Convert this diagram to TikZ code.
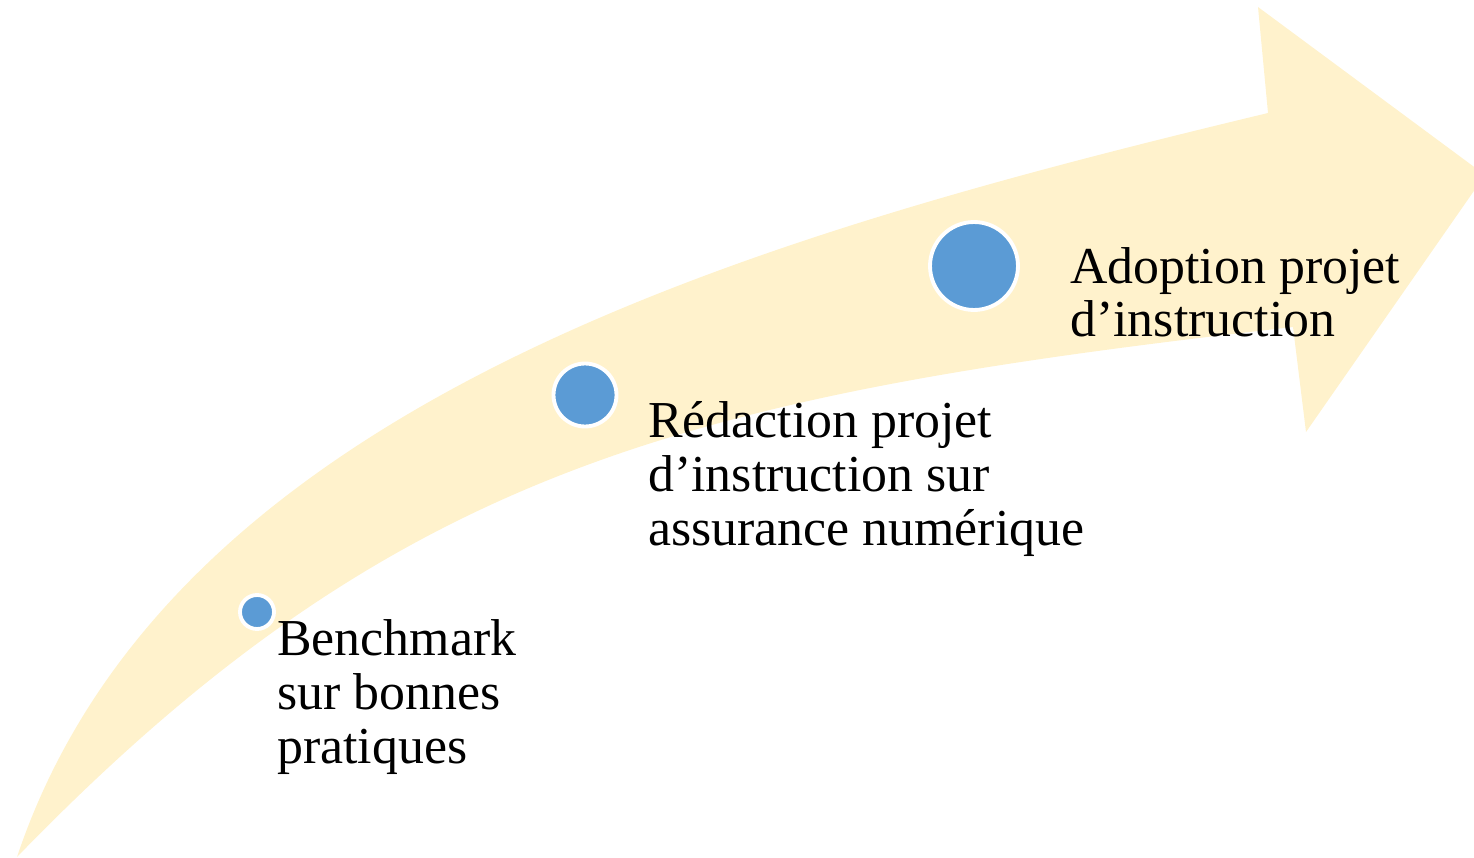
\documentclass[tikz,border=0pt]{standalone}
\usepackage{fontspec}
\setmainfont{Liberation Serif}
\usepackage{xcolor}

\begin{document}
\begin{tikzpicture}[x=0.02cm, y=-0.02cm,
    dot/.style={circle, fill=StepBlue, draw=white, line width=2.2pt, inner sep=0pt},
    steptext/.style={anchor=base west, align=left, inner sep=0pt,
        font=\fontsize{29.5}{30.7}\selectfont}]
    \definecolor{PaleGold}{HTML}{FFF2CC}
    \definecolor{StepBlue}{HTML}{5B9BD5}
    \useasboundingbox (0,0) rectangle (1474,858);
    \clip (0,0) rectangle (1474,858);
    % curved arrow
    \coordinate (tail) at (17,857);
    \coordinate (notchup) at (1268,113);
    \coordinate (barbup) at (1258,7);
    \coordinate (tip) at (1485,175);
    \coordinate (barblow) at (1306,432);
    \coordinate (notchlow) at (1293,327);
    \fill[PaleGold] (tail) .. controls (170,400) and (760,235) .. (notchup)
        -- (barbup) -- (tip) -- (barblow) -- (notchlow)
        .. controls (693,395) and (397,465) .. (tail) -- cycle;
    % steps (base = last line)
    \node[dot, minimum size=0.68cm] (bench) at (257,612) {};
    \node[dot, minimum size=1.26cm] (redac) at (585,395) {};
    \node[dot, minimum size=1.76cm] (adopt) at (974,266) {};
    \node[steptext] (benchtext) at (277,763) {Benchmark\\sur bonnes\\pratiques};
    \node[steptext] (redactext) at (648,545) {Rédaction projet\\d’instruction sur\\assurance numérique};
    \node[steptext] (adopttext) at (1070,337) {Adoption projet\\d’instruction};
\end{tikzpicture}
\end{document}
